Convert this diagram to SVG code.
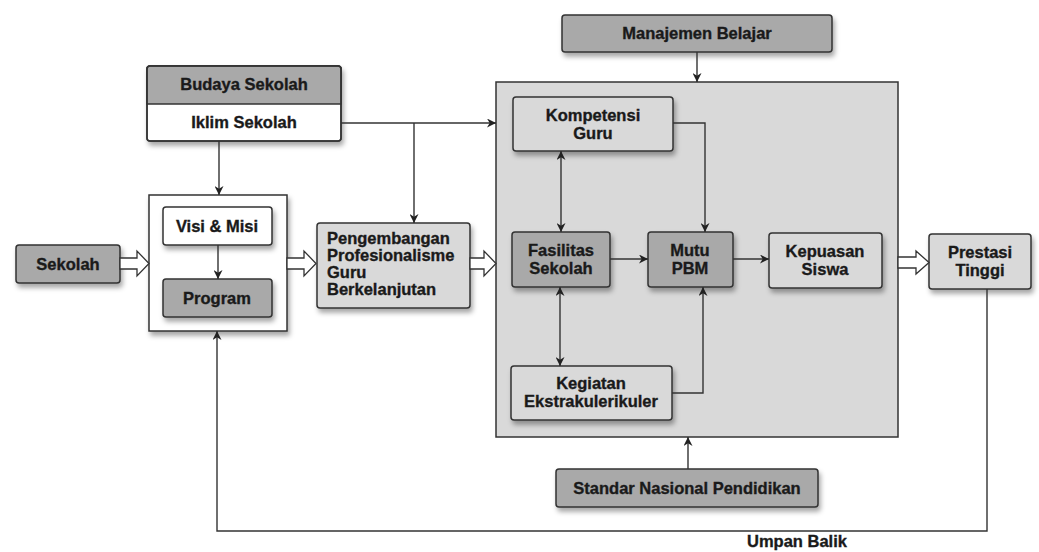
<svg xmlns="http://www.w3.org/2000/svg" width="1039" height="552" viewBox="0 0 1039 552">
<defs>
<filter id="sh" x="-10%" y="-10%" width="130%" height="140%"><feDropShadow dx="2" dy="4" stdDeviation="2.5" flood-color="#000" flood-opacity="0.35"/></filter>
<marker id="ar" viewBox="0 0 10 10" refX="10" refY="5" markerWidth="9" markerHeight="9" markerUnits="userSpaceOnUse" orient="auto-start-reverse"><path d="M0,0 L10,5 L0,10 L3,5 Z" fill="#222"/></marker>
</defs>
<style>
.dk{fill:#a9a9a9;stroke:#333;stroke-width:1.5}
.lt{fill:#d9d9d9;stroke:#333;stroke-width:1.5}
.wh{fill:#fff;stroke:#333;stroke-width:1.5}
.t{font-family:"Liberation Sans",Arial,sans-serif;font-weight:bold;font-size:16.5px;fill:#1a1a1a;stroke:#1a1a1a;stroke-width:0.35;text-anchor:middle}
.tl{text-anchor:start}
.ln{fill:none;stroke:#333;stroke-width:1.4}
.hol{fill:#fff;stroke:#333;stroke-width:1.3}
</style>
<rect width="1039" height="552" fill="#fff"/>

<g id="big-box"><rect x="496" y="82" width="402" height="355" class="lt"/></g>
<g id="container"><rect x="149" y="195" width="138" height="136" class="wh" filter="url(#sh)"/></g>

<g id="budaya-sekolah">
<rect x="147" y="66" width="194" height="75" rx="3" class="wh" filter="url(#sh)"/>
<path d="M150,66 H338 Q341,66 341,69 V104 H147 V69 Q147,66 150,66 Z" class="dk"/>
<rect x="147" y="66" width="194" height="75" rx="3" fill="none" stroke="#333" stroke-width="1.5"/>
<text x="244" y="90" class="t">Budaya Sekolah</text>
<text x="244" y="128" class="t">Iklim Sekolah</text>
</g>

<g id="sekolah"><rect x="16" y="245" width="104" height="38" rx="3" class="dk" filter="url(#sh)"/><text x="68" y="270" class="t">Sekolah</text></g>
<g id="visi-misi"><rect x="163" y="207" width="109" height="38" rx="3" class="wh" filter="url(#sh)"/><text x="217" y="232" class="t">Visi &amp; Misi</text></g>
<g id="program"><rect x="163" y="279" width="109" height="38" rx="3" class="dk" filter="url(#sh)"/><text x="217" y="304" class="t">Program</text></g>

<g id="pengembangan"><rect x="317" y="223" width="153" height="85" rx="3" class="lt" filter="url(#sh)"/>
<text x="327" y="244" class="t tl">Pengembangan</text>
<text x="327" y="261" class="t tl">Profesionalisme</text>
<text x="327" y="278" class="t tl">Guru</text>
<text x="327" y="295" class="t tl">Berkelanjutan</text></g>

<g id="manajemen"><rect x="562" y="15" width="270" height="37" rx="3" class="dk" filter="url(#sh)"/><text x="697" y="39" class="t">Manajemen Belajar</text></g>
<g id="kompetensi"><rect x="513" y="97" width="160" height="54" rx="3" class="lt" filter="url(#sh)"/><text x="593" y="121" class="t">Kompetensi</text><text x="593" y="139" class="t">Guru</text></g>
<g id="fasilitas"><rect x="512" y="232" width="98" height="55" rx="3" class="dk" filter="url(#sh)"/><text x="561" y="256" class="t">Fasilitas</text><text x="561" y="274" class="t">Sekolah</text></g>
<g id="mutu"><rect x="648" y="232" width="85" height="55" rx="3" class="dk" filter="url(#sh)"/><text x="690" y="256" class="t">Mutu</text><text x="690" y="274" class="t">PBM</text></g>
<g id="kepuasan"><rect x="769" y="233" width="113" height="55" rx="3" class="lt" filter="url(#sh)"/><text x="825" y="257" class="t">Kepuasan</text><text x="825" y="275" class="t">Siswa</text></g>
<g id="kegiatan"><rect x="511" y="366" width="161" height="54" rx="3" class="lt" filter="url(#sh)"/><text x="591" y="389" class="t">Kegiatan</text><text x="591" y="407" class="t">Ekstrakulerikuler</text></g>
<g id="prestasi"><rect x="929" y="234" width="102" height="55" rx="3" class="lt" filter="url(#sh)"/><text x="980" y="258" class="t">Prestasi</text><text x="980" y="276" class="t">Tinggi</text></g>
<g id="standar"><rect x="556" y="469" width="262" height="38" rx="3" class="dk" filter="url(#sh)"/><text x="687" y="494" class="t">Standar Nasional Pendidikan</text></g>

<g id="connectors">
<path class="ln" d="M219,141 V195" marker-end="url(#ar)"/>
<path class="ln" d="M218,245 V279" marker-end="url(#ar)"/>
<path class="ln" d="M341,123 H496" marker-end="url(#ar)"/>
<path class="ln" d="M414,123 V223" marker-end="url(#ar)"/>
<path class="ln" d="M697,52 V82" marker-end="url(#ar)"/>
<path class="ln" d="M673,123 H705 V232" marker-end="url(#ar)"/>
<path class="ln" d="M561,151 V232" marker-start="url(#ar)" marker-end="url(#ar)"/>
<path class="ln" d="M560,287 V366" marker-start="url(#ar)" marker-end="url(#ar)"/>
<path class="ln" d="M610,259 H648" marker-end="url(#ar)"/>
<path class="ln" d="M733,259 H769" marker-end="url(#ar)"/>
<path class="ln" d="M672,393 H703 V287" marker-end="url(#ar)"/>
<path class="ln" d="M688,469 V437" marker-end="url(#ar)"/>
<path class="ln" d="M987,289 V531 H217 V331" marker-end="url(#ar)"/>
<path class="hol" d="M120,258 H137 V251 L149,263.5 L137,276 V269 H120 Z"/>
<path class="hol" d="M287,258 H304 V251 L316,263.5 L304,276 V269 H287 Z"/>
<path class="hol" d="M470,258 H484 V251 L496,263.5 L484,276 V269 H470 Z"/>
<path class="hol" d="M898,257 H916 V251 L929,262.5 L916,274 V268 H898 Z"/>
</g>
<text x="797" y="547" class="t">Umpan Balik</text>
</svg>
